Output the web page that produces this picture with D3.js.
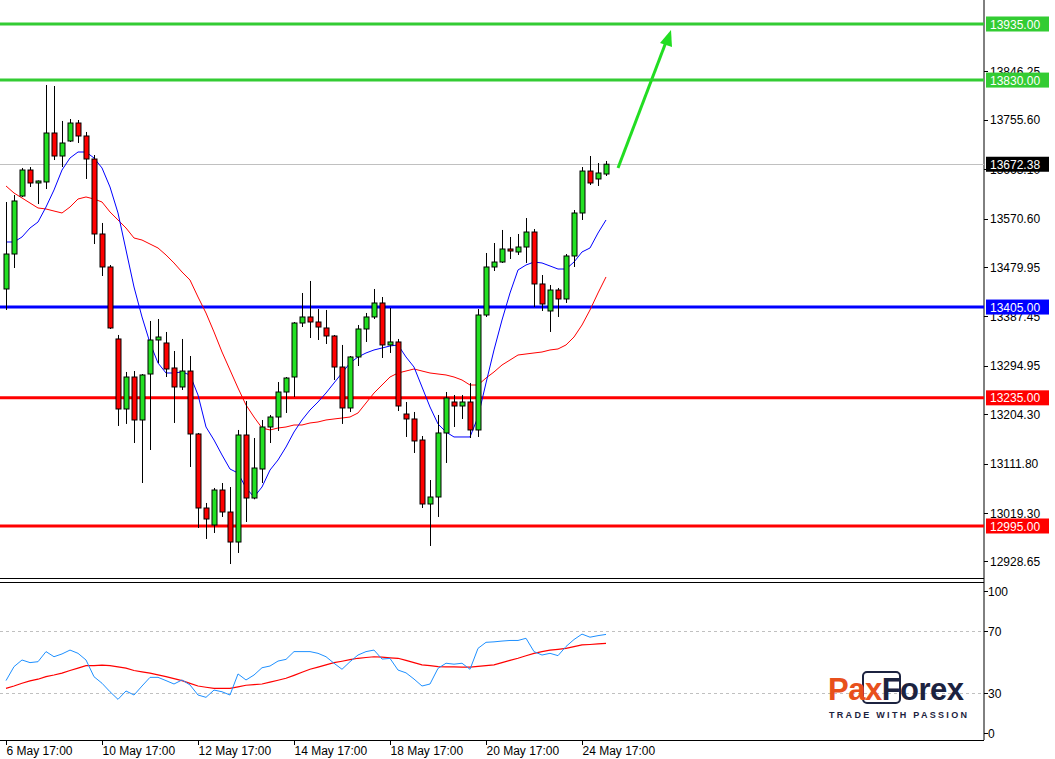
<!DOCTYPE html>
<html><head><meta charset="utf-8">
<script src="https://cdn.jsdelivr.net/npm/d3@7/dist/d3.min.js"></script>
<style>body{margin:0;background:#fff}svg{display:block}text{font-family:"Liberation Sans",Arial,sans-serif}</style>
</head><body><svg id="c" width="1055" height="759"></svg>
<script>
const openP=[13438.8,13504.3,13612.9,13661.6,13637.3,13639.2,13730.9,13687.8,13715.9,13749.6,13725.3,13682.2,13541.8,13480.0,13345.2,13214.1,13274.0,13193.5,13279.6,13343.3,13337.7,13290.9,13255.3,13285.2,13167.3,13028.7,12996.9,13062.4,13021.2,12965.0,13165.4,13047.4,13101.7,13180.4,13199.1,13245.9,13274.0,13375.1,13386.4,13377.0,13365.8,13350.8,13292.7,13216.0,13311.5,13363.9,13386.4,13412.6,13334.0,13339.6,13204.7,13195.4,13156.0,13036.2,13049.3,13169.2,13227.2,13219.7,13227.2,13174.8,13390.1,13480.0,13489.3,13513.7,13508.1,13517.4,13545.5,13448.2,13397.6,13436.9,13420.1,13500.6,13581.1,13659.7,13644.8,13654.1];
const highP=[13601.7,13614.8,13665.4,13667.2,13642.0,13820.8,13818.9,13753.4,13757.1,13755.2,13732.8,13689.7,13562.4,13483.7,13352.7,13283.4,13285.2,13279.6,13378.9,13382.6,13358.3,13322.7,13345.2,13313.3,13169.2,13038.1,13066.2,13075.5,13068.0,13174.8,13229.1,13159.8,13193.5,13202.9,13264.6,13274.0,13377.0,13431.3,13453.8,13401.3,13399.5,13352.7,13334.0,13313.3,13371.4,13393.9,13438.8,13423.8,13403.2,13345.2,13227.2,13208.5,13163.5,13081.1,13202.9,13245.9,13240.3,13240.3,13262.8,13401.3,13506.2,13524.9,13549.3,13536.2,13541.8,13571.7,13551.1,13465.0,13446.3,13440.7,13504.3,13586.7,13667.2,13687.8,13674.7,13678.5];
const lowP=[13399.5,13478.1,13611.1,13629.8,13597.9,13626.0,13680.3,13667.2,13714.0,13712.2,13644.8,13523.0,13463.1,13363.9,13182.3,13186.1,13150.4,13075.5,13137.3,13300.2,13274.0,13187.9,13249.7,13105.5,12991.3,12970.7,12981.9,13011.9,12923.8,12944.5,13002.5,13045.0,13075.5,13150.4,13172.9,13206.6,13236.6,13367.6,13347.0,13343.3,13335.8,13268.4,13186.1,13208.5,13294.6,13339.6,13382.6,13309.6,13319.0,13210.3,13161.7,13131.7,13028.7,12957.6,13011.9,13113.0,13180.4,13195.4,13159.8,13161.7,13386.4,13472.5,13487.5,13495.0,13502.5,13487.5,13405.1,13397.6,13358.3,13386.4,13412.6,13480.0,13568.0,13633.5,13631.7,13650.4];
const closeP=[13504.3,13603.6,13661.6,13637.3,13641.0,13730.9,13687.8,13712.2,13749.6,13725.3,13682.2,13541.8,13480.0,13365.8,13214.1,13274.0,13193.5,13277.8,13343.3,13348.9,13289.0,13255.3,13285.2,13167.3,13028.7,13008.1,13062.4,13021.2,12965.0,13165.4,13047.4,13103.6,13180.4,13199.1,13245.9,13272.1,13375.1,13386.4,13377.0,13367.6,13350.8,13292.7,13216.0,13311.5,13363.9,13386.4,13412.6,13334.0,13339.6,13219.7,13195.4,13154.2,13036.2,13049.3,13169.2,13234.7,13219.7,13227.2,13174.8,13390.1,13480.0,13489.3,13513.7,13509.9,13517.4,13545.5,13448.2,13410.7,13436.9,13420.1,13500.6,13581.1,13659.7,13637.3,13656.0,13672.4];
const maFast=[13526.8,13526.8,13536.2,13553.0,13564.2,13592.3,13624.2,13661.6,13684.1,13695.3,13695.3,13684.1,13665.4,13629.8,13581.1,13511.8,13442.5,13386.4,13337.7,13300.2,13281.5,13281.5,13283.4,13277.8,13240.3,13180.4,13156.0,13128.0,13101.7,13094.2,13066.2,13049.3,13068.0,13099.8,13118.6,13142.9,13171.0,13193.5,13212.2,13227.2,13244.0,13262.8,13281.5,13300.2,13311.5,13319.0,13324.6,13328.3,13332.1,13334.0,13311.5,13292.7,13255.3,13217.8,13186.1,13171.0,13161.7,13161.7,13161.7,13199.1,13262.8,13324.6,13380.7,13431.3,13474.4,13483.7,13489.3,13487.5,13481.9,13476.2,13476.2,13489.3,13508.1,13515.6,13543.6,13568.0];
const maSlow=[13631.7,13618.5,13609.2,13599.8,13590.5,13588.6,13584.8,13581.1,13592.3,13607.3,13611.1,13607.3,13601.7,13583.0,13568.0,13553.0,13534.3,13530.5,13523.0,13515.6,13502.5,13487.5,13470.6,13455.6,13423.8,13393.8,13358.3,13320.8,13287.1,13253.4,13221.6,13199.1,13178.5,13174.8,13178.5,13180.4,13184.1,13184.1,13187.9,13189.8,13193.5,13195.4,13197.2,13199.1,13206.6,13225.3,13244.0,13259.0,13274.0,13281.5,13285.2,13289.0,13285.2,13281.5,13279.6,13277.8,13274.0,13268.4,13259.0,13259.0,13272.1,13283.4,13296.5,13305.8,13315.2,13317.1,13319.0,13320.8,13324.6,13326.5,13334.0,13348.9,13371.4,13399.5,13431.3,13461.3];
const osc=[38,47,51.3,49.6,50.2,56.7,53.4,55.2,57.7,55.6,51.3,40.5,36.3,30.8,25.9,31.3,28.7,34.5,40.1,40.1,38,35.8,38.4,35.2,28.7,27.2,31.9,30.8,28.7,42.3,38.4,41.6,46.3,47.4,50.6,51.7,56.7,56.7,56.7,55.6,53.4,49.2,45.3,50.2,54.5,56.7,57.7,51.9,52.3,44.8,43,39,34.5,35.8,45.9,49.2,48.6,49.2,45.3,58.8,62.7,63,63.5,63.9,63.9,65.3,56.7,54.5,55.6,54.1,60,64.5,68,66,67,67.8];
const oscMa=[33,34.5,36.3,37.8,38.9,40.6,41.6,42.8,44.5,46,47.6,47.6,48,47.6,46.8,46,44.5,43.6,42.8,41.7,40.6,39.3,38,36.2,34.5,33.7,33,33,33,34,35,35.4,35.8,37,38.2,39.5,41.4,43.4,45.3,46.7,48.1,49.6,50.5,51.5,52.4,52.9,53.4,53.1,52.7,52.4,51,49.6,48.2,47.6,47,46.9,46.8,46.7,46.7,47.2,47.7,48.2,49.6,51,52.4,54,55.6,56.7,57.7,58.2,58.8,59.9,61,61.3,61.7,62];
const priceTicks=[13846.25,13755.60,13663.10,13570.60,13479.95,13387.45,13294.95,13204.30,13111.80,13019.30,12928.65];
const levels=[{v:13935,c:"#33cc33",t:"13935.00"},{v:13830,c:"#33cc33",t:"13830.00"},{v:13405,c:"#0000ff",t:"13405.00"},{v:13235,c:"#ff0000",t:"13235.00"},{v:12995,c:"#ff0000",t:"12995.00"}];
const lastPrice=13672.38;
const dateLabels=["6 May 17:00","10 May 17:00","12 May 17:00","14 May 17:00","18 May 17:00","20 May 17:00","24 May 17:00"];
const dateIdx=[0,12,24,36,48,60,72];
const oscTicks=[100,70,30,0];

const svg=d3.select("#c");
const R=984;
const x=d3.scaleLinear().domain([0,75]).range([6,606]);
const y=d3.scaleLinear().domain([12995,13935]).range([526,24]);
const yo=d3.scaleLinear().domain([0,100]).range([739.5,584.5]);
const idx=d3.range(openP.length);

svg.append("line").attr("x1",R).attr("x2",R).attr("y1",0).attr("y2",740).attr("stroke","#000");
svg.append("line").attr("x1",0).attr("x2",R).attr("y1",578.5).attr("y2",578.5).attr("stroke","#000");
svg.append("line").attr("x1",0).attr("x2",R).attr("y1",582.5).attr("y2",582.5).attr("stroke","#000");
svg.append("line").attr("x1",0).attr("x2",R).attr("y1",740.5).attr("y2",740.5).attr("stroke","#000");

const ptg=svg.append("g");
priceTicks.forEach(v=>{
  ptg.append("line").attr("x1",R).attr("x2",R+4).attr("y1",Math.round(y(v))+.5).attr("y2",Math.round(y(v))+.5).attr("stroke","#000");
  ptg.append("text").attr("x",990).attr("y",y(v)+4.5).attr("font-size",12).attr("fill","#000").text(v.toFixed(2));
});

svg.append("line").attr("x1",0).attr("x2",R).attr("y1",Math.round(y(lastPrice))+.5).attr("y2",Math.round(y(lastPrice))+.5).attr("stroke","#c0c0c0");

levels.forEach(l=>{
  svg.append("line").attr("x1",0).attr("x2",R).attr("y1",y(l.v)).attr("y2",y(l.v)).attr("stroke",l.c).attr("stroke-width",3);
});

const lf=d3.line().x((d,i)=>x(i)).y(d=>y(d));
svg.append("path").attr("d",lf(maSlow)).attr("fill","none").attr("stroke","#ff0000").attr("stroke-width",1);
svg.append("path").attr("d",lf(maFast)).attr("fill","none").attr("stroke","#0000ff").attr("stroke-width",1);

const cg=svg.append("g");
idx.forEach(i=>{
  const cx=Math.round(x(i))+.5;
  cg.append("line").attr("x1",cx).attr("x2",cx).attr("y1",y(highP[i])).attr("y2",y(lowP[i])).attr("stroke","#000");
  const top=y(Math.max(openP[i],closeP[i])), bot=y(Math.min(openP[i],closeP[i]));
  cg.append("rect").attr("x",cx-2.5).attr("y",top).attr("width",5).attr("height",Math.max(1,bot-top))
    .attr("fill",closeP[i]>=openP[i]?"#22e022":"#ff0000").attr("stroke","#000").attr("stroke-width",1);
});

levels.concat([{v:lastPrice,c:"#000",t:lastPrice.toFixed(2)}]).forEach(l=>{
  svg.append("rect").attr("x",986).attr("y",y(l.v)-7.5).attr("width",63).attr("height",15).attr("fill",l.c);
  svg.append("text").attr("x",990).attr("y",y(l.v)+4.5).attr("font-size",12).attr("fill","#fff").text(l.t);
});

svg.append("line").attr("x1",618).attr("y1",168).attr("x2",666).attr("y2",42).attr("stroke","#22dd22").attr("stroke-width",3);
svg.append("path").attr("d","M671,30 L672,47 L660,43 Z").attr("fill","#22dd22");

[70,30].forEach(v=>svg.append("line").attr("x1",0).attr("x2",R).attr("y1",Math.round(yo(v))+.5).attr("y2",Math.round(yo(v))+.5).attr("stroke","#c0c0c0").attr("stroke-dasharray","3,3"));
const lo=d3.line().x((d,i)=>x(i)).y(d=>yo(d));
svg.append("path").attr("d",lo(oscMa)).attr("fill","none").attr("stroke","#ff0000").attr("stroke-width",1.2);
svg.append("path").attr("d",lo(osc)).attr("fill","none").attr("stroke","#1e90ff").attr("stroke-width",1);
oscTicks.forEach(v=>{
  let yy=yo(v); if(v===100) yy=591; if(v===0) yy=733;
  svg.append("line").attr("x1",R).attr("x2",R+4).attr("y1",Math.round(yy)+.5).attr("y2",Math.round(yy)+.5).attr("stroke","#000");
  svg.append("text").attr("x",988).attr("y",yy+4.5).attr("font-size",12).text(v);
});

dateIdx.forEach((d,k)=>{
  const tx=Math.round(x(d))+.5;
  svg.append("line").attr("x1",tx).attr("x2",tx).attr("y1",740).attr("y2",745).attr("stroke","#000");
  svg.append("text").attr("x",tx).attr("y",755).attr("font-size",12).text(dateLabels[k]);
});

const lg=svg.append("g").attr("font-family","Roboto,'Liberation Sans',sans-serif").attr("font-weight","bold");
lg.append("rect").attr("x",863).attr("y",672).attr("width",37).attr("height",31).attr("rx",4).attr("fill","none").attr("stroke","#1c2340").attr("stroke-width",2);
const t=lg.append("text").attr("x",828).attr("y",700).attr("font-size",31).attr("letter-spacing",-0.5);
t.append("tspan").attr("fill","#e8501c").text("Pax");
t.append("tspan").attr("fill","#1c2340").text("Forex");
lg.append("text").attr("x",829).attr("y",718).attr("font-size",9).attr("letter-spacing",2.3).attr("fill","#1c2340").text("TRADE WITH PASSION");
</script></body></html>
